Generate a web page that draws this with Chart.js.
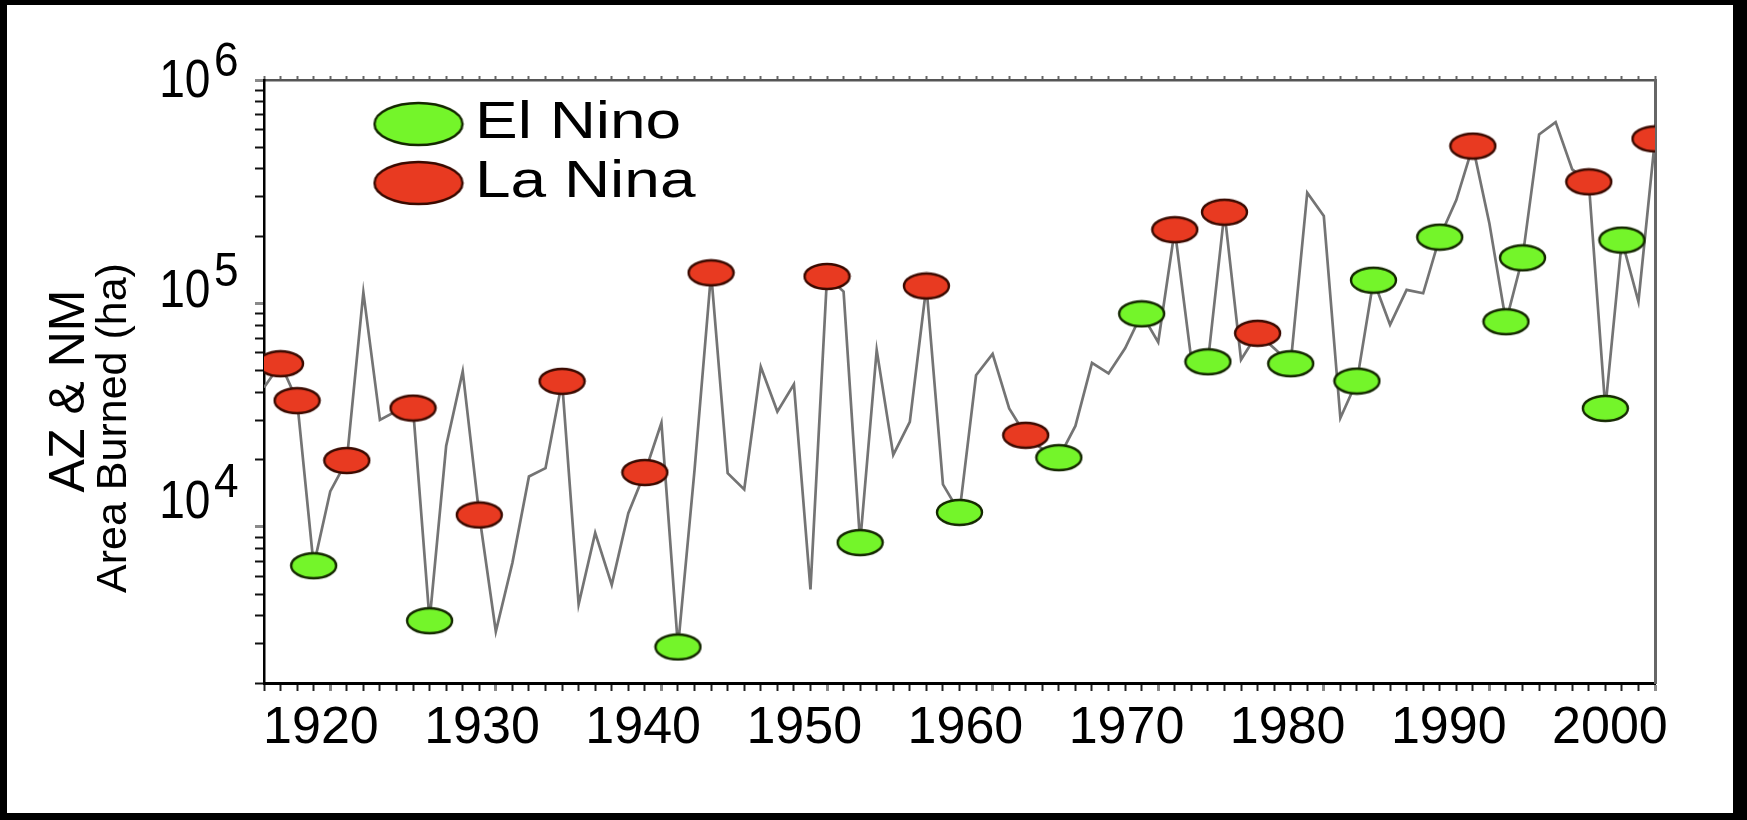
<!DOCTYPE html>
<html>
<head>
<meta charset="utf-8">
<title>AZ &amp; NM Area Burned</title>
<script src="https://cdn.jsdelivr.net/npm/chart.js@4.4.1/dist/chart.umd.min.js"></script>
<style>
  html, body { margin: 0; padding: 0; background: #000; width: 1747px; height: 820px; overflow: hidden; }
  #frame { position: absolute; left: 7px; top: 5px; width: 1726px; height: 808px; background: #fff; }
</style>
</head>
<body>
<div id="frame"><canvas id="fireChart"></canvas></div>
<script>
// area burned per year, 1916 - 2000 (ha)
const firstYear = 1916;
const areaBurned = [
    42000, 53700, 36700, 6700, 14400, 19800, 112000, 30100, 33000, 34000,      // 1916-1925
    3800, 23000, 49600, 11300, 3400, 6900, 16800, 18300, 44800, 4500,          // 1926-1935
    9400, 5500, 11500, 17500, 29200, 2900, 18000, 137000, 17400, 14700,        // 1936-1945
    52000, 32800, 43500, 5250, 132000, 113000, 8500, 61800, 21000, 29500,      // 1946-1955
    119700, 15500, 11600, 47700, 59400, 33900, 25700, 22300, 20400, 28300,     // 1956-1965
    54200, 48600, 63000, 89800, 67000, 213800, 56000, 54800, 256000, 56000,    // 1966-1975
    73500, 63000, 53700, 313000, 246000, 30700, 44900, 127000, 80200, 115000,  // 1976-1985
    111000, 198000, 290000, 506000, 228000, 82800, 160000, 570000, 648000, 398000, // 1986-1995
    350000, 33900, 192000, 102000, 545000                                      // 1996-2000
];
const elNinoYears = [1919, 1926, 1941, 1952, 1958, 1964, 1969, 1973, 1978, 1982, 1983, 1987, 1991, 1992, 1997, 1998];
const laNinaYears = [1917, 1918, 1921, 1925, 1929, 1934, 1939, 1943, 1950, 1956, 1962, 1971, 1974, 1976, 1989, 1996, 2000];
const xTickLabels = [1920, 1930, 1940, 1950, 1960, 1970, 1980, 1990, 2000];
const yTickExponents = [4, 5, 6];
const legendLabels = ['El Nino', 'La Nina'];
const yTitleLines = ['AZ & NM', 'Area Burned (ha)'];

const years = areaBurned.map((_, i) => firstYear + i);
const lastYear = years[years.length - 1];
const valueFor = yr => areaBurned[yr - firstYear];

const FONT = '"Liberation Sans", Arial, sans-serif';
const elNinoFill = '#74f52a';
const laNinaFill = '#e83a21';

const makeEllipse = (w, h, fill, stroke) => {
    const c = document.createElement('canvas');
    c.width = w + 4;
    c.height = h + 4;
    const g = c.getContext('2d');
    g.beginPath();
    g.ellipse(c.width / 2, c.height / 2, w / 2, h / 2, 0, 0, Math.PI * 2);
    g.fillStyle = fill;
    g.fill();
    g.lineWidth = 2.4;
    g.strokeStyle = stroke;
    g.stroke();
    return c;
};

const elNinoMark = makeEllipse(45, 25, elNinoFill, '#142800');
const laNinaMark = makeEllipse(45, 25, laNinaFill, '#3a0a00');
const legendMarks = [makeEllipse(88, 42, elNinoFill, '#142800'), makeEllipse(88, 42, laNinaFill, '#3a0a00')];

const drawText = (ctx, text, x, y, size, align, sx) => {
    ctx.save();
    ctx.font = size + 'px ' + FONT;
    ctx.fillStyle = '#000';
    ctx.textBaseline = 'middle';
    ctx.textAlign = align;
    ctx.translate(x, y);
    ctx.scale(sx, 1);
    ctx.fillText(text, 0, 0);
    ctx.restore();
};

// y labels with big superscripts, legend and the two-line axis title
const annotate = {
    id: 'annotate',
    afterDraw(chart) {
        const ctx = chart.ctx;
        const area = chart.chartArea;
        const yLab = chart.scales.yLab;

        yTickExponents.forEach(e => {
            const yc = yLab.getPixelForValue(Math.pow(10, e));
            drawText(ctx, '10', area.left - 53.5, yc, 53, 'right', 0.87);
            drawText(ctx, String(e), area.left - 50, yc - 19.5, 48, 'left', 0.92);
        });

        legendLabels.forEach((label, i) => {
            const cy = area.top + 44 + i * 59;
            const mark = legendMarks[i];
            ctx.drawImage(mark, area.left + 154.5 - mark.width / 2, cy - mark.height / 2);
            drawText(ctx, label, area.left + 211, cy, 52, 'left', 1.23);
        });

        ctx.save();
        ctx.fillStyle = '#000';
        ctx.textAlign = 'center';
        ctx.textBaseline = 'middle';
        [[area.left - 194, area.top + 311, 50], [area.left - 150, area.top + 348, 43]].forEach(([x, y, size], i) => {
            ctx.save();
            ctx.translate(x, y);
            ctx.rotate(-Math.PI / 2);
            ctx.font = size + 'px ' + FONT;
            ctx.fillText(yTitleLines[i], 0, 0);
            ctx.restore();
        });
        ctx.restore();
    }
};

const yearTicks = s => { s.ticks = years.map(v => ({ value: v })); };
const logTicks = s => {
    const t = [];
    for (let e = 3; e <= 5; e++) {
        for (let m = 1; m <= 9; m++) {
            const v = m * Math.pow(10, e);
            if (v >= s.min) t.push({ value: v });
        }
    }
    t.push({ value: s.max });
    s.ticks = t;
};
const isDecade = ctx => ctx.tick && ctx.tick.value % 10 === 0;
const isPow10 = ctx => ctx.tick && Math.abs(Math.log10(ctx.tick.value) % 1) < 1e-9;

new Chart(document.getElementById('fireChart'), {
    type: 'scatter',
    data: {
        datasets: [
            {
                label: legendLabels[0],
                data: elNinoYears.map(yr => ({ x: yr, y: valueFor(yr) })),
                pointStyle: elNinoMark,
                pointRadius: 12,
                order: 1
            },
            {
                label: legendLabels[1],
                data: laNinaYears.map(yr => ({ x: yr, y: valueFor(yr) })),
                pointStyle: laNinaMark,
                pointRadius: 12,
                order: 2
            },
            {
                label: 'Area burned',
                data: years.map(yr => ({ x: yr, y: valueFor(yr) })),
                showLine: true,
                pointRadius: 0,
                borderColor: '#747474',
                borderWidth: 2.7,
                tension: 0,
                order: 3
            }
        ]
    },
    options: {
        responsive: true,
        maintainAspectRatio: false,
        devicePixelRatio: 1,
        animation: false,
        layout: { padding: { left: 0, right: 78, top: 0, bottom: 0 } },
        plugins: {
            legend: { display: false },
            tooltip: { enabled: false }
        },
        scales: {
            x: {
                type: 'linear', position: 'bottom', min: firstYear, max: lastYear,
                afterBuildTicks: yearTicks,
                ticks: { display: false },
                grid: {
                    drawOnChartArea: false, tickLength: 8,
                    tickColor: ctx => isDecade(ctx) ? '#8a8a8a' : '#222',
                    tickWidth: ctx => isDecade(ctx) ? 3 : 2
                },
                border: { color: '#000', width: 3 },
                afterFit: s => { s.height = 9; }
            },
            // labels sit a bit off the tick marks in the original, so they get their own axis
            xLab: {
                type: 'linear', position: 'bottom', min: 1916.47, max: 2002.8,
                afterBuildTicks: s => { s.ticks = xTickLabels.map(v => ({ value: v })); },
                ticks: {
                    color: '#000', font: { family: FONT, size: 52 }, padding: 5,
                    maxRotation: 0, autoSkip: false, callback: v => String(v)
                },
                grid: { display: false, drawTicks: false },
                border: { display: false },
                afterFit: s => { s.height = 121; }
            },
            xTop: {
                type: 'linear', position: 'top', min: firstYear, max: lastYear,
                afterBuildTicks: yearTicks,
                ticks: { display: false },
                grid: { drawOnChartArea: false, tickLength: 4, tickColor: '#666', tickWidth: 2 },
                border: { color: '#555', width: 2.5 },
                afterFit: s => { s.height = 75; }
            },
            y: {
                type: 'logarithmic', position: 'left', min: 2000, max: 1e6,
                afterBuildTicks: logTicks,
                ticks: { display: false },
                grid: {
                    drawOnChartArea: false, tickLength: 9,
                    tickColor: ctx => isPow10(ctx) ? '#8a8a8a' : '#111',
                    tickWidth: ctx => isPow10(ctx) ? 3 : 2
                },
                border: { color: '#000', width: 2.5 },
                afterFit: s => { s.width = 257; }
            },
            yRight: {
                type: 'logarithmic', position: 'right', min: 2000, max: 1e6,
                ticks: { display: false },
                grid: { drawOnChartArea: false, drawTicks: false },
                border: { color: '#666', width: 3 },
                afterFit: s => { s.width = 0; }
            },
            // the decade labels are spaced a little tighter than the decades themselves
            yLab: { type: 'logarithmic', display: false, min: 1393, max: 1027800 }
        }
    },
    plugins: [annotate]
});
</script>
</body>
</html>
